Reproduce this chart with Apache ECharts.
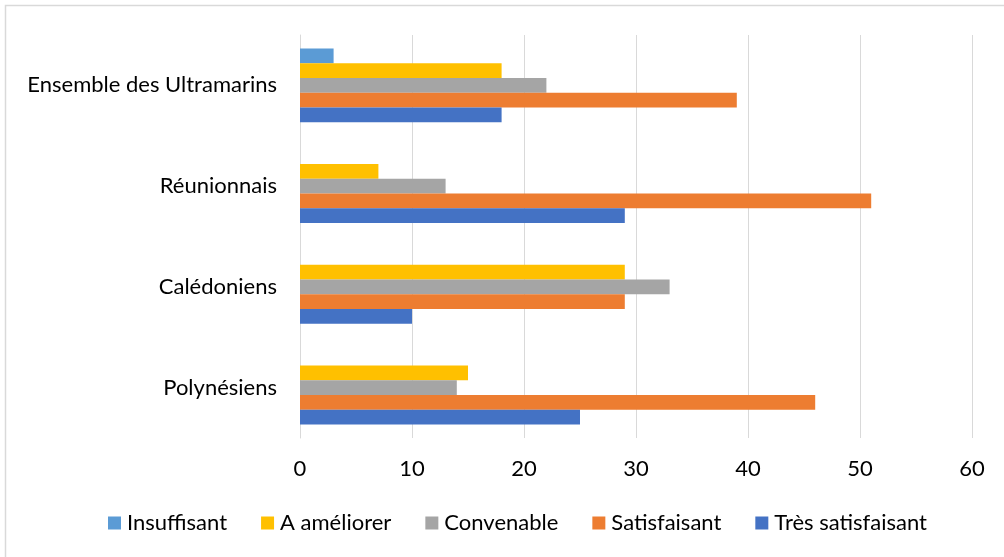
<!DOCTYPE html>
<html>
<head>
<meta charset="utf-8">
<script src="https://cdn.jsdelivr.net/npm/echarts@6/dist/echarts.min.js"></script>
<style>
html, body { margin: 0; padding: 0; background: #fff; }
#chart { width: 1004px; height: 557px; }
</style>
</head>
<body>
<div id="chart"></div>
<script>
// catégories (de bas en haut)
var categories = ['Polynésiens', 'Calédoniens', 'Réunionnais', 'Ensemble des Ultramarins'];

var tresSatisfaisant = [25, 10, 29, 18];
var satisfaisant = [46, 29, 51, 39];
var convenable = [14, 33, 13, 22];
var aAmeliorer = [15, 29, 7, 18];
var insuffisant = [0, 0, 0, 3];

var legendNames = ['Insuffisant', 'A améliorer', 'Convenable', 'Satisfaisant', 'Très satisfaisant'];

var font = 'Lato';

var myChart = echarts.init(document.getElementById('chart'));

function serie(name, data, color) {
	return {
		name: name,
		type: 'bar',
		data: data,
		barGap: 0,
		barCategoryGap: '27%',
		itemStyle: { color: color },
		emphasis: { disabled: true }
	};
}

var option = {
	animation: false,
	textStyle: { fontFamily: font },
	grid: {
		left: 300,
		right: 32,
		top: 35,
		bottom: 119
	},
	xAxis: {
		type: 'value',
		min: 0,
		max: 60,
		interval: 10,
		axisLine: { show: false },
		axisTick: { show: false },
		splitLine: { lineStyle: { color: '#d9d9d9', width: 1 } },
		axisLabel: { color: '#000', fontSize: 22, fontFamily: font, margin: 20 }
	},
	yAxis: {
		type: 'category',
		data: categories,
		axisLine: { lineStyle: { color: '#d9d9d9' } },
		axisTick: { show: false },
		axisLabel: { color: '#000', fontSize: 22, fontFamily: font, margin: 23 }
	},
	legend: {
		data: legendNames,
		left: 103,
		top: 507,
		itemWidth: 13,
		itemHeight: 13,
		itemGap: 34,
		icon: 'rect',
		textStyle: { color: '#000', fontSize: 22, fontFamily: font, padding: [0, 0, 0, 1] }
	},
	graphic: [{
		type: 'rect',
		shape: { x: 5.5, y: 5.5, width: 1020, height: 570 },
		style: { fill: 'none', stroke: '#d9d9d9', lineWidth: 1.5 },
		silent: true
	}],
	// premier série en haut du groupe
	series: [
		serie('Insuffisant', insuffisant, '#5b9bd5'),
		serie('A améliorer', aAmeliorer, '#ffc000'),
		serie('Convenable', convenable, '#a5a5a5'),
		serie('Satisfaisant', satisfaisant, '#ed7d31'),
		serie('Très satisfaisant', tresSatisfaisant, '#4472c4')
	]
};
myChart.setOption(option);
window.onresize = function(){
	myChart.resize();
}
</script>
</body>
</html>
